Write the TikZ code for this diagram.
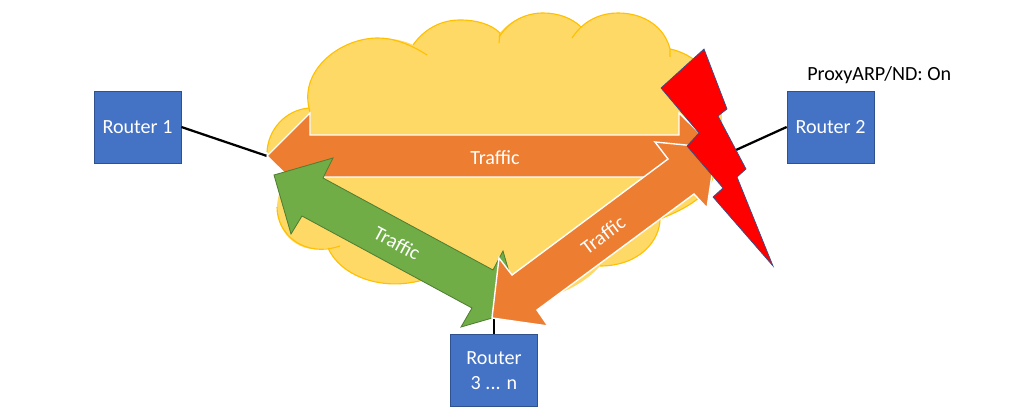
\documentclass[tikz,border=0pt]{standalone}
\usepackage{fontspec}
\setmainfont{Carlito}
\usepackage{tikz}

\definecolor{cloudfill}{HTML}{FFD966}
\definecolor{cloudline}{HTML}{FFC000}
\definecolor{routerblue}{HTML}{4472C4}
\definecolor{routerline}{HTML}{2F528F}
\definecolor{trafficorange}{HTML}{ED7D31}
\definecolor{trafficgreen}{HTML}{70AD47}
\definecolor{greenline}{HTML}{507E32}

\tikzset{
  router/.style={draw=routerline,line width=0.5pt,fill=routerblue,text=white,minimum width=2.175cm,minimum height=1.8cm,inner sep=0pt,align=center,font=\fontsize{14.3}{17.5}\selectfont},
  link/.style={line width=1.6pt},
  orangearrow/.style={fill=trafficorange,draw=white,line width=1pt,line join=miter},
  greenarrow/.style={fill=trafficgreen,draw=greenline,line width=0.6pt},
  trafficlabel/.style={text=white,inner sep=0pt,font=\fontsize{14.3}{17.5}\selectfont},
  cloudedge/.style={draw=cloudline,line width=0.8pt}
}

\begin{document}
\begin{tikzpicture}[x=0.025cm,y=-0.025cm]
  \useasboundingbox (0,0) rectangle (1024,418);

  \node[router] (r1) at (137.5,127) {Router 1};
  \node[router] (r2) at (830.5,127) {Router 2};
  \node[router] (r3) at (494,370.5) {Router\\3 ... n};
  \node[anchor=west,inner sep=0pt,font=\fontsize{14.3}{17.5}\selectfont] (proxy) at (807,75) {ProxyARP/ND: On};

  \coordinate (c1) at (267,156);
  \coordinate (c2) at (736,150);
  \coordinate (c3) at (494,318);

  \draw[link] (r1.east) -- (c1);
  \draw[link] (r2.west) -- (c2);
  \draw[link] (r3.north) -- (c3);

  % cloud
  \fill[cloudfill] (309,108) .. controls (300,70) and (340,38) .. (378,38)
    .. controls (393,38) and (405,41) .. (413,45)
    .. controls (425,28) and (442,20) .. (460,20)
    .. controls (478,20) and (492,25) .. (500,33)
    .. controls (510,20) and (527,13) .. (543,13)
    .. controls (558,13) and (572,18) .. (581,27)
    .. controls (590,18) and (604,13) .. (618,13)
    .. controls (645,13) and (665,28) .. (670,49)
    .. controls (680,51) and (690,56) .. (697,62)
    .. controls (715,75) and (722,100) .. (722,120)
    .. controls (722,145) and (720,165) .. (713,177)
    .. controls (708,195) and (690,207) .. (660,219)
    .. controls (660,240) and (640,266) .. (600,266)
    .. controls (570,300) and (510,310) .. (480,300)
    .. controls (460,295) and (440,285) .. (423,280)
    .. controls (380,292) and (340,275) .. (328,248)
    .. controls (300,255) and (277,235) .. (277,207)
    .. controls (277,195) and (285,180) .. (283,170)
    -- (267,152)
    .. controls (268,130) and (285,110) .. (309,108) -- cycle;
  \draw[cloudedge] (310,112) -- (309,108) .. controls (300,70) and (340,38) .. (378,38)
    .. controls (393,38) and (410,44) .. (427,55);
  \draw[cloudedge] (413,45) .. controls (425,28) and (442,20) .. (460,20)
    .. controls (478,20) and (492,25) .. (500,33) -- (499,43);
  \draw[cloudedge] (499,37) .. controls (510,20) and (527,13) .. (543,13)
    .. controls (558,13) and (572,18) .. (581,27);
  \draw[cloudedge] (572,38) .. controls (585,18) and (604,13) .. (618,13)
    .. controls (645,13) and (665,28) .. (670,49) -- (670,57);
  \draw[cloudedge] (670,49) .. controls (680,51) and (690,56) .. (697,62);
  \draw[cloudedge] (713,177) .. controls (708,195) and (690,207) .. (660,219)
    .. controls (660,240) and (640,266) .. (600,266);
  \draw[cloudedge] (423,280) .. controls (380,292) and (340,275) .. (328,248);
  \draw[cloudedge] (340,246) .. controls (305,258) and (277,235) .. (277,207);
  \draw[cloudedge] (267,152) .. controls (268,130) and (285,110) .. (309,108);

  % traffic arrows
  \draw[orangearrow] (267,156) -- (310,113) -- (310,135) -- (679,135) -- (679,113)
    -- (723,156) -- (679,198) -- (679,177) -- (310,177) -- (310,198) -- cycle;
  \draw[greenarrow] (274,175) -- (333,158) -- (323,178) -- (493,270) -- (503,251)
    -- (520,310) -- (461,327) -- (472,308) -- (302,216) -- (291,234) -- cycle;
  \draw[orangearrow] (492,318) -- (499,258) -- (512,275) -- (668,159) -- (655,142)
    -- (716,148) -- (707,208) -- (694,194) -- (537,310) -- (548,326) -- cycle;

  \node[trafficlabel] (t1) at (495,158) {Traffic};
  \node[trafficlabel,rotate=-28.4] (t2) at (397,243) {Traffic};
  \node[trafficlabel,rotate=36.6] (t3) at (603,235) {Traffic};

  % lightning
  \draw[fill=red,draw=routerline,line width=0.5pt] (704,49) -- (727,109) -- (718,116) -- (746,169)
    -- (737,177) -- (773,266) -- (713,197) -- (723,188) -- (687,146) -- (699,133) -- (661,88) -- cycle;
\end{tikzpicture}
\end{document}
